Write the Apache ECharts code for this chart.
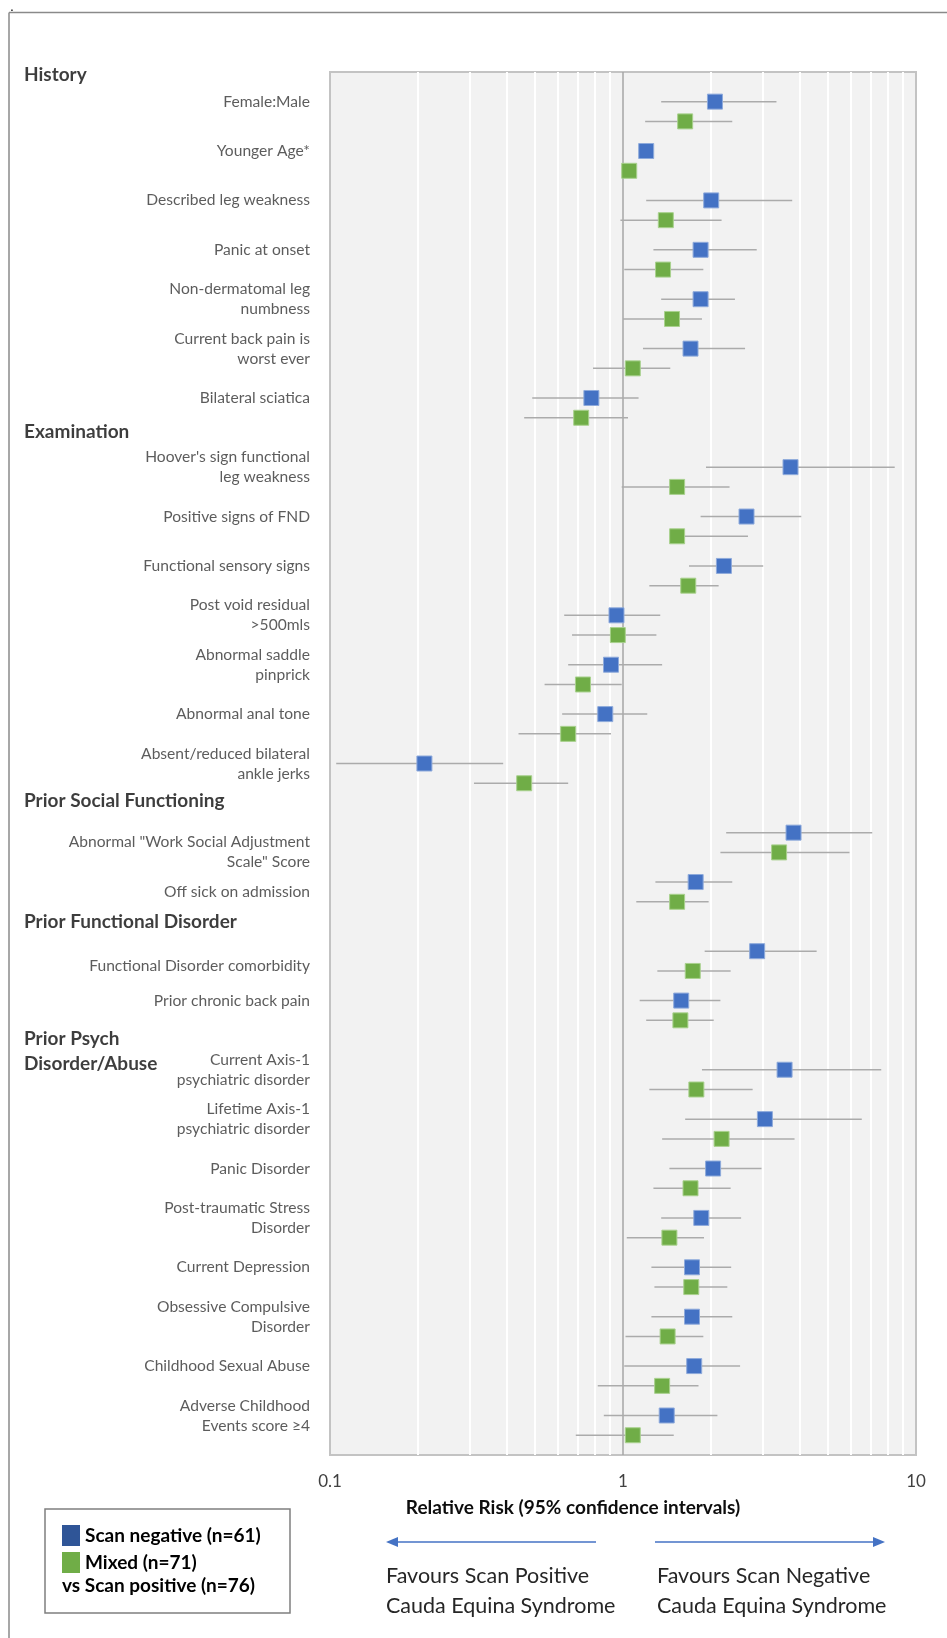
<!DOCTYPE html>
<html>
<head>
<meta charset="utf-8">
<script src="https://cdn.jsdelivr.net/npm/echarts@6/dist/echarts.min.js"></script>
<style>
html, body { margin: 0; padding: 0; background: #fff; }
#chart { width: 947px; height: 1638px; }
</style>
</head>
<body>
<div id="chart"></div>
<script>
// rows, top to bottom
const labels = [
  'Female:Male', 'Younger Age*', 'Described leg weakness', 'Panic at onset',
  'Non-dermatomal leg\nnumbness', 'Current back pain is\nworst ever', 'Bilateral sciatica',
  "Hoover's sign functional\nleg weakness", 'Positive signs of FND', 'Functional sensory signs',
  'Post void residual\n>500mls', 'Abnormal saddle\npinprick', 'Abnormal anal tone',
  'Absent/reduced bilateral\nankle jerks',
  'Abnormal "Work Social Adjustment\nScale" Score', 'Off sick on admission',
  'Functional Disorder comorbidity', 'Prior chronic back pain',
  'Current Axis-1\npsychiatric disorder', 'Lifetime Axis-1\npsychiatric disorder',
  'Panic Disorder', 'Post-traumatic Stress\nDisorder', 'Current Depression',
  'Obsessive Compulsive\nDisorder', 'Childhood Sexual Abuse', 'Adverse Childhood\nEvents score \u22654'
];
const groups = ['History', 'Examination', 'Prior Social Functioning', 'Prior Functional Disorder', 'Prior Psych\nDisorder/Abuse'];
const groupOf = [0,0,0,0,0,0,0, 1,1,1,1,1,1,1, 2,2, 3,3, 4,4,4,4,4,4,4,4];

// Scan negative vs scan positive
const negRR = [2.06, 1.20, 2.00, 1.84, 1.84, 1.70, 0.78, 3.73, 2.64, 2.21, 0.95, 0.91, 0.87, 0.21,
               3.82, 1.77, 2.87, 1.58, 3.56, 3.05, 2.03, 1.85, 1.72, 1.72, 1.75, 1.41];
const negLo = [1.35, null, 1.20, 1.27, 1.35, 1.17, 0.49, 1.92, 1.84, 1.68, 0.63, 0.65, 0.62, 0.105,
               2.25, 1.29, 1.90, 1.14, 1.86, 1.63, 1.44, 1.35, 1.25, 1.25, 1.01, 0.86];
const negHi = [3.34, null, 3.78, 2.86, 2.41, 2.61, 1.13, 8.46, 4.06, 3.01, 1.34, 1.36, 1.21, 0.39,
               7.09, 2.36, 4.58, 2.15, 7.61, 6.53, 2.97, 2.53, 2.34, 2.36, 2.51, 2.10];
// Mixed vs scan positive
const mixRR = [1.63, 1.05, 1.40, 1.37, 1.47, 1.08, 0.72, 1.53, 1.53, 1.67, 0.96, 0.73, 0.65, 0.46,
               3.41, 1.53, 1.73, 1.57, 1.78, 2.17, 1.70, 1.44, 1.71, 1.42, 1.36, 1.08];
const mixLo = [1.19, null, 0.98, 1.01, 1.00, 0.79, 0.46, 0.99, 1.47, 1.23, 0.67, 0.54, 0.44, 0.31,
               2.15, 1.11, 1.31, 1.20, 1.23, 1.36, 1.27, 1.03, 1.28, 1.02, 0.82, 0.69];
const mixHi = [2.36, null, 2.17, 1.88, 1.86, 1.45, 1.04, 2.31, 2.67, 2.12, 1.30, 0.99, 0.91, 0.65,
               5.93, 1.96, 2.33, 2.04, 2.77, 3.85, 2.33, 1.89, 2.27, 1.88, 1.81, 1.49];

const xTicks = [0.1, 1, 10];
const gridVals = [0.2, 0.3, 0.4, 0.5, 0.6, 0.7, 0.8, 0.9, 2, 3, 4, 5, 6, 7, 8, 9];

// layout: small vertical nudges (axis units) for text placement
const labelNudge = [0,0,0,0,0,0,0, 0,0,0,0,0,0,0, 2,1, 1.5,0, 0,0,0,0,0,0,0,0];
const headerNudge = [0.4, -0.5, -0.15, 0.1, 0];

const FONT = 'Lato';
const rowY = i => 3 + 5 * i + 2 * groupOf[i];

function ciData(lo, hi, off) {
  const out = [];
  lo.forEach((l, i) => { if (l != null) out.push([l, hi[i], rowY(i) + off]); });
  return out;
}

function ciSeries(lo, hi, off) {
  return {
    type: 'custom', silent: true, z: 3,
    data: ciData(lo, hi, off),
    encode: { x: [0, 1], y: 2 },
    renderItem: (params, api) => {
      const a = api.coord([api.value(0), api.value(2)]);
      const b = api.coord([api.value(1), api.value(2)]);
      return { type: 'line', shape: { x1: a[0], y1: a[1], x2: b[0], y2: b[1] },
               style: { stroke: '#ababab', lineWidth: 1.5 } };
    }
  };
}

const chart = echarts.init(document.getElementById('chart'));
chart.setOption({
  animation: false,
  backgroundColor: '#fff',
  textStyle: { fontFamily: FONT },
  grid: { left: 330, right: 31, top: 72, bottom: 183, show: true,
          backgroundColor: '#f2f2f2', borderColor: '#c3c3c3', borderWidth: 2 },
  xAxis: {
    type: 'log', logBase: 10, min: 0.1, max: 10,
    axisLine: { show: false }, axisTick: { show: false }, splitLine: { show: false },
    axisLabel: { fontSize: 17, color: '#404040', margin: 18, fontFamily: FONT,
                 formatter: v => String(Math.round(v * 10) / 10) }
  },
  yAxis: { type: 'value', inverse: true, min: 0, max: 140, show: false },
  legend: {
    orient: 'vertical', left: 57, top: 1520, itemWidth: 18, itemHeight: 21, itemGap: 6,
    selectedMode: false,
    textStyle: { fontSize: 19, fontWeight: 'bold', color: '#000', fontFamily: FONT },
    data: [
      { name: 'Scan negative (n=61)', icon: 'rect', itemStyle: { color: '#2F5597', borderWidth: 0 } },
      { name: 'Mixed (n=71)', icon: 'rect', itemStyle: { color: '#70AD47', borderWidth: 0 } }
    ]
  },
  series: [
    {
      type: 'scatter', silent: true, z: 1, data: [],
      markLine: {
        z: 1, silent: true, symbol: 'none', label: { show: false },
        data: gridVals.map(v => ({ xAxis: v, lineStyle: { color: '#ffffff', width: 2, type: 'solid' } }))
          .concat([{ xAxis: 1, lineStyle: { color: '#a6a6a6', width: 1.5, type: 'solid' } }])
      }
    },
    ciSeries(negLo, negHi, 0),
    ciSeries(mixLo, mixHi, 2),
    {
      name: 'Scan negative (n=61)', type: 'scatter', z: 5, symbol: 'rect', symbolSize: 15,
      itemStyle: { color: '#4472C4', borderColor: '#8eaadb', borderWidth: 1, opacity: 1 },
      data: negRR.map((v, i) => [v, rowY(i)])
    },
    {
      name: 'Mixed (n=71)', type: 'scatter', z: 5, symbol: 'rect', symbolSize: 15,
      itemStyle: { color: '#70AD47', borderColor: '#a9d18e', borderWidth: 1, opacity: 1 },
      data: mixRR.map((v, i) => [v, rowY(i) + 2])
    },
    {
      type: 'scatter', silent: true, symbolSize: 0, clip: false,
      data: labels.map((t, i) => ({ value: [0.1, rowY(i) + labelNudge[i]], name: t })),
      label: { show: true, position: 'left', distance: 20, formatter: p => p.name,
               align: 'right', verticalAlign: 'middle', fontSize: 15.6, lineHeight: 20,
               color: '#333', fontFamily: FONT }
    },
    {
      type: 'scatter', silent: true, symbolSize: 0, clip: false,
      data: groups.map((g, k) => ({ value: [0.1, rowY(groupOf.indexOf(k)) - 3.1 + headerNudge[k]], name: g })),
      label: { show: true, position: [-306, -12.5], formatter: p => p.name,
               align: 'left', verticalAlign: 'top', fontSize: 19, fontWeight: 'bold', lineHeight: 25,
               color: '#0d0d0d', fontFamily: FONT }
    }
  ],
  graphic: [
    { type: 'text', left: 10, top: 0, style: { text: '.', fontSize: 14, fill: '#000' } },
    { type: 'line', shape: { x1: 9, y1: 12.5, x2: 947, y2: 12.5 }, style: { stroke: '#8a8a8a', lineWidth: 1.5 } },
    { type: 'line', shape: { x1: 9, y1: 12.5, x2: 9, y2: 1638 }, style: { stroke: '#8a8a8a', lineWidth: 1.5 } },
    { type: 'text', x: 573, y: 1508,
      style: { text: 'Relative Risk (95% confidence intervals)', fontSize: 19, fontWeight: 'bold',
               fill: '#0d0d0d', align: 'center', verticalAlign: 'middle', fontFamily: FONT } },
    { type: 'rect', shape: { x: 45, y: 1509, width: 245, height: 104 },
      style: { fill: 'none', stroke: '#7f7f7f', lineWidth: 1.5 } },
    { type: 'text', x: 62, y: 1586,
      style: { text: 'vs Scan positive (n=76)', fontSize: 19, fontWeight: 'bold', fill: '#000',
               verticalAlign: 'middle', fontFamily: FONT } },
    { type: 'line', shape: { x1: 392, y1: 1542, x2: 596, y2: 1542 }, style: { stroke: '#4472C4', lineWidth: 1.5 } },
    { type: 'polygon', shape: { points: [[386, 1542], [398, 1537], [398, 1547]] }, style: { fill: '#4472C4' } },
    { type: 'line', shape: { x1: 655, y1: 1542, x2: 879, y2: 1542 }, style: { stroke: '#4472C4', lineWidth: 1.5 } },
    { type: 'polygon', shape: { points: [[885, 1542], [873, 1537], [873, 1547]] }, style: { fill: '#4472C4' } },
    { type: 'text', x: 386, y: 1561,
      style: { text: 'Favours Scan Positive\nCauda Equina Syndrome', fontSize: 21.5, lineHeight: 30,
               fill: '#262626', fontFamily: FONT } },
    { type: 'text', x: 657, y: 1561,
      style: { text: 'Favours Scan Negative\nCauda Equina Syndrome', fontSize: 21.5, lineHeight: 30,
               fill: '#262626', fontFamily: FONT } }
  ]
});
</script>
</body>
</html>
